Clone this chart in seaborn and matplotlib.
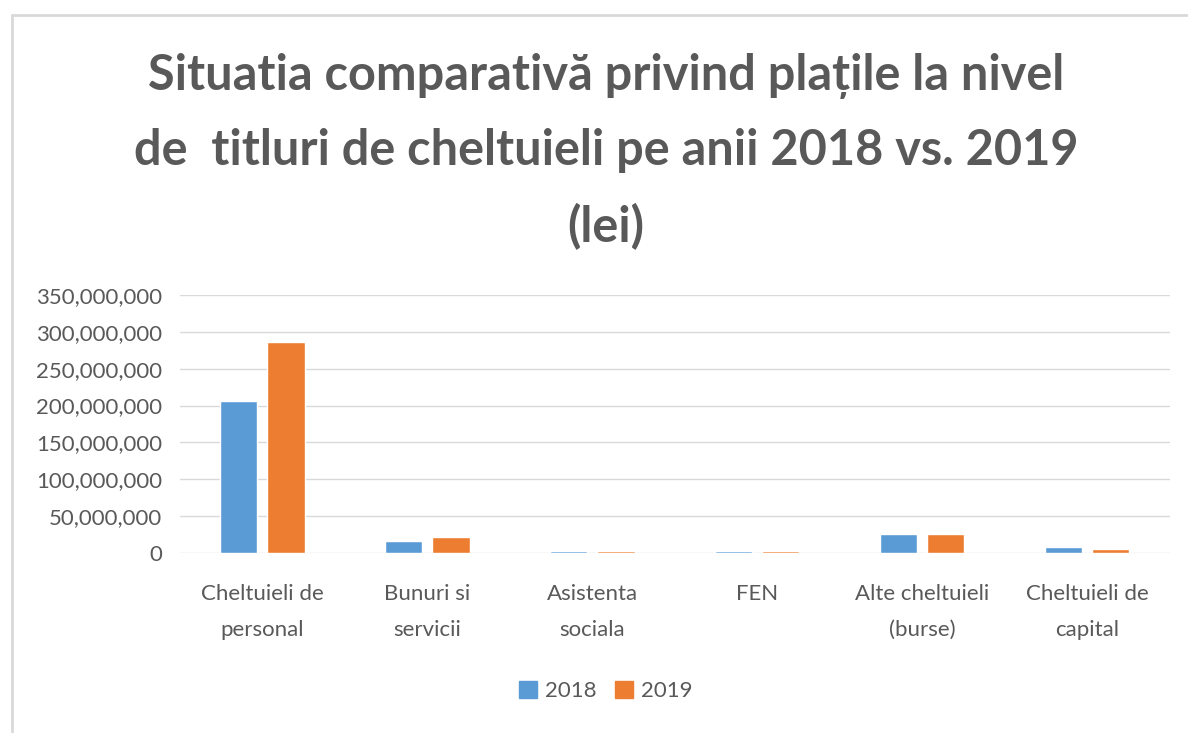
import matplotlib
matplotlib.use('Agg')
import matplotlib.pyplot as plt
import matplotlib.ticker as mticker
from matplotlib.lines import Line2D
import pandas as pd
import seaborn as sns

categories = ['Cheltuieli de\npersonal', 'Bunuri si\nservicii', 'Asistenta\nsociala',
              'FEN', 'Alte cheltuieli\n(burse)', 'Cheltuieli de\ncapital']
values_2018 = [206000000, 16800000, 2600000, 2500000, 25400000, 8200000]
values_2019 = [286000000, 21000000, 2500000, 2400000, 25500000, 5900000]
years = ['2018', '2019']
colors = ['#5B9BD5', '#ED7D31']

df = pd.DataFrame({
    'Categorie': categories * 2,
    'An': [years[0]] * len(categories) + [years[1]] * len(categories),
    'Valoare': values_2018 + values_2019,
})

sns.set_theme(style='white')
plt.rcParams['font.family'] = ['Lato', 'DejaVu Sans']

fig = plt.figure(figsize=(11.88, 7.33), dpi=100)
ax = fig.add_axes([0.1515, 0.2456, 0.833, 0.352])

sns.barplot(data=df, x='Categorie', y='Valoare', hue='An', palette=colors,
            saturation=1, width=0.572, gap=0.21, ax=ax, legend=False)

ax.set_ylim(0, 350000000)
ax.set_xlim(-0.5, len(categories) - 0.5)
ax.yaxis.set_major_locator(mticker.MultipleLocator(50000000))
ax.yaxis.set_major_formatter(mticker.FuncFormatter(lambda v, p: '{:,.0f}'.format(v)))
ax.grid(axis='y', color='#D9D9D9', linewidth=1)
ax.set_axisbelow(True)
for s in ['top', 'right', 'left', 'bottom']:
    ax.spines[s].set_visible(False)
ax.set_xlabel('')
ax.set_ylabel('')
ax.tick_params(axis='y', labelsize=16, colors='#595959', length=0, pad=13)
ax.tick_params(axis='x', labelsize=16, colors='#595959', length=0, pad=22)
for lbl in ax.get_xticklabels():
    lbl.set_linespacing(2.0)

fig.text(0.51, 0.793, 'Situatia comparativă privind plațile la nivel\n'
         'de  titluri de cheltuieli pe anii 2018 vs. 2019\n(lei)',
         ha='center', va='center', fontsize=35, fontweight='bold', color='#595959',
         linespacing=1.78)

handles = [plt.Rectangle((0, 0), 1, 1, color=c) for c in colors]
fig.legend(handles, years, loc='center', bbox_to_anchor=(0.51, 0.057), ncol=2,
           frameon=False, fontsize=16, handlelength=0.8, handleheight=0.8,
           columnspacing=0.8, handletextpad=0.4, labelcolor='#595959')

# chart border (partly cut off in the screenshot)
fig.add_artist(Line2D([12 / 1188, 12 / 1188], [0, 1 - 15 / 733], transform=fig.transFigure,
                      color='#D9D9D9', linewidth=2))
fig.add_artist(Line2D([12 / 1188, 1], [1 - 15 / 733, 1 - 15 / 733], transform=fig.transFigure,
                      color='#D9D9D9', linewidth=2))

plt.savefig('out.png', dpi=100)
